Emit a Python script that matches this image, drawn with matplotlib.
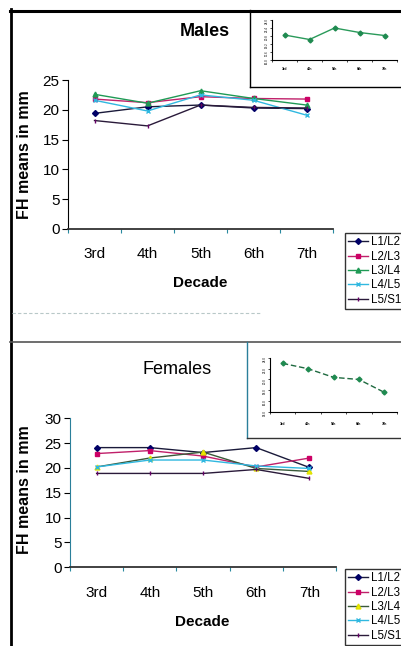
import matplotlib
matplotlib.use("Agg")
import matplotlib.pyplot as plt
from matplotlib import font_manager
from matplotlib.lines import Line2D

W, H = 401, 646

decades = ["3rd", "4th", "5th", "6th", "7th"]
levels = ["L1/L2", "L2/L3", "L3/L4", "L4/L5", "L5/S1"]

# male FH means (mm) per level
male_l1l2 = [19.4, 20.5, 20.8, 20.3, 20.2]
male_l2l3 = [21.8, 21.2, 22.2, 21.9, 21.8]
male_l3l4 = [22.6, 21.1, 23.2, 21.9, 20.8]
male_l4l5 = [21.6, 19.8, 22.5, 21.6, 19.1]
male_l5s1 = [18.2, 17.3, 20.8, 20.4, 20.3]

# female FH means (mm) per level
female_l1l2 = [24.1, 24.1, 23.1, 24.1, 20.1]
female_l2l3 = [22.9, 23.5, 22.4, 20.2, 22.0]
female_l3l4 = [20.2, 22.0, 23.2, 19.9, 19.3]
female_l4l5 = [20.2, 21.6, 21.6, 20.4, 19.9]
female_l5s1 = [18.9, 18.9, 18.9, 19.7, 17.9]

# small inset curves
male_inset = [21.0, 20.1, 22.4, 21.5, 20.9]
female_inset = [23.0, 22.0, 20.4, 20.0, 17.6]

names = {f.name for f in font_manager.fontManager.ttflist}
narrow = "Liberation Sans Narrow" if "Liberation Sans Narrow" in names else "Liberation Sans"
plt.rcParams["font.family"] = [narrow, "DejaVu Sans"]


def fx(px):
    return px / W


def fy(py):
    return 1 - py / H


def box(x0, y0, x1, y1):
    return [fx(x0), fy(y1), (x1 - x0) / W, (y1 - y0) / H]


fig = plt.figure(figsize=(W / 100, H / 100), dpi=100)

male_styles = [
    dict(color="#1a1a3a", marker="D", ms=3, mfc="#000066", mec="#000066"),
    dict(color="#c0206a", marker="s", ms=3.5, mfc="#cc0066", mec="#cc0066"),
    dict(color="#1f9a55", marker="^", ms=3.5, mfc="#1f9a55", mec="#1f9a55"),
    dict(color="#30b8e0", marker="x", ms=3.5, mfc="#30b8e0", mec="#30b8e0"),
    dict(color="#2a1a3a", marker="|", ms=3.5, mfc="#660066", mec="#660066"),
]
female_styles = [
    dict(color="#1a1a3a", marker="D", ms=3, mfc="#000066", mec="#000066"),
    dict(color="#c0206a", marker="s", ms=3.5, mfc="#cc0066", mec="#cc0066"),
    dict(color="#3a5a3a", marker="^", ms=3.5, mfc="#f0f000", mec="#e0e000"),
    dict(color="#30b8e0", marker="x", ms=3.5, mfc="#30b8e0", mec="#30b8e0"),
    dict(color="#2a1a3a", marker="|", ms=3.5, mfc="#660066", mec="#660066"),
]


def main_panel(rect, series, styles, ymax, title, title_xy, title_weight,
               ylab_y, dec_y, leg_xy, spine_col):
    ax = fig.add_axes(rect)
    x = range(len(decades))
    for vals, st in zip(series, styles):
        ax.plot(x, vals, lw=1, **st)
    ax.set_xlim(-0.5, 4.5)
    ax.set_ylim(0, ymax)
    ax.set_yticks(range(0, ymax + 1, 5))
    ax.set_xticks([i - 0.5 for i in range(6)])
    ax.set_xticklabels([])
    for i, d in enumerate(decades):
        ax.text(i, -0.17, d, transform=ax.get_xaxis_transform(),
                ha="center", va="center", fontsize=11)
    ax.spines[["top", "right"]].set_visible(False)
    ax.spines["left"].set_color(spine_col)
    ax.spines["bottom"].set_color("#333333")
    ax.spines["bottom"].set_linewidth(1.3)
    ax.tick_params(axis="y", direction="out", length=4, labelsize=11, pad=2)
    ax.tick_params(axis="x", direction="out", length=3, color="#2a8aa0")
    fig.text(fx(dec_y[0]), fy(dec_y[1]), "Decade", ha="center", va="center",
             fontsize=11, fontweight="bold")
    fig.text(fx(25), fy(ylab_y), "FH means in mm", rotation=90, ha="center",
             va="center", fontsize=11.5, fontweight="bold")
    fig.text(fx(title_xy[0]), fy(title_xy[1]), title, ha="center", va="center",
             fontsize=13, fontweight=title_weight, family=["Liberation Sans", "DejaVu Sans"])
    handles = [Line2D([], [], lw=1, **st) for st in styles]
    leg = fig.legend(handles, levels, loc="upper left",
                     bbox_to_anchor=(fx(leg_xy[0]), fy(leg_xy[1])),
                     frameon=True, fancybox=False, edgecolor="black",
                     fontsize=8.3, handlelength=1.7, handletextpad=0.25,
                     borderpad=0.3, labelspacing=0.2, borderaxespad=0)
    leg.get_frame().set_linewidth(1)
    return ax


def inset(rect, vals, ylim, color, ls):
    ax = fig.add_axes(rect)
    ax.plot(range(5), vals, color=color, lw=1, ls=ls, marker="D", ms=2.5,
            mfc="#1f8a50", mec="#1f8a50")
    ax.set_xlim(-0.5, 4.5)
    ax.set_ylim(*ylim)
    ax.set_xticks([i - 0.5 for i in range(6)])
    ax.set_xticklabels([])
    for i, d in enumerate(decades):
        ax.text(i, -0.22, d, transform=ax.get_xaxis_transform(),
                ha="center", va="center", fontsize=2.5, fontweight="bold")
    step = (ylim[1] - ylim[0]) / 5
    ax.set_yticks([ylim[0] + k * step for k in range(6)])
    ax.set_yticklabels(["%.1f" % (ylim[0] + k * step) for k in range(6)],
                       fontsize=2.2, rotation=90)
    ax.tick_params(length=1.5, width=0.5, pad=1)
    ax.spines[["top", "right"]].set_visible(False)
    ax.spines["left"].set_linewidth(0.8)
    ax.spines["bottom"].set_linewidth(0.8)
    ax.patch.set_alpha(0)


# males
main_panel(box(68, 80, 333, 229),
           [male_l1l2, male_l2l3, male_l3l4, male_l4l5, male_l5s1],
           male_styles, 25, "Males", (205, 32), "bold", 155, (200, 283),
           (345, 233), "black")
inset(box(272, 20, 397, 60), male_inset, (16, 24), "#2a9a5a", "-")

# females
main_panel(box(70, 418.3, 336, 567.3),
           [female_l1l2, female_l2l3, female_l3l4, female_l4l5, female_l5s1],
           female_styles, 30, "Females", (177, 370), "normal", 490, (202, 622),
           (345, 569), "#2a7f9a")
inset(box(270, 358, 397, 411.7), female_inset, (14, 24), "#1f6a40", (0, (4, 2)))

# frame lines from the scanned page
def line(xs, ys, **kw):
    fig.add_artist(Line2D([fx(v) for v in xs], [fy(v) for v in ys], **kw))


line([11, 11], [9, 646], color="black", lw=2)
line([10, 401], [10.5, 10.5], color="black", lw=2.2)
line([250, 250], [10, 87], color="black", lw=1)
line([250, 401], [87, 87], color="black", lw=1)
line([10, 401], [341.7, 341.7], color="#555555", lw=1.2)
line([247, 247], [341.7, 438], color="#2a7f9a", lw=1)
line([247, 401], [438, 438], color="#333333", lw=1)
line([12, 260], [312.7, 312.7], color="#b8c8c8", lw=0.8, ls=(0, (3, 2)))

fig.savefig("out.png", dpi=100)
